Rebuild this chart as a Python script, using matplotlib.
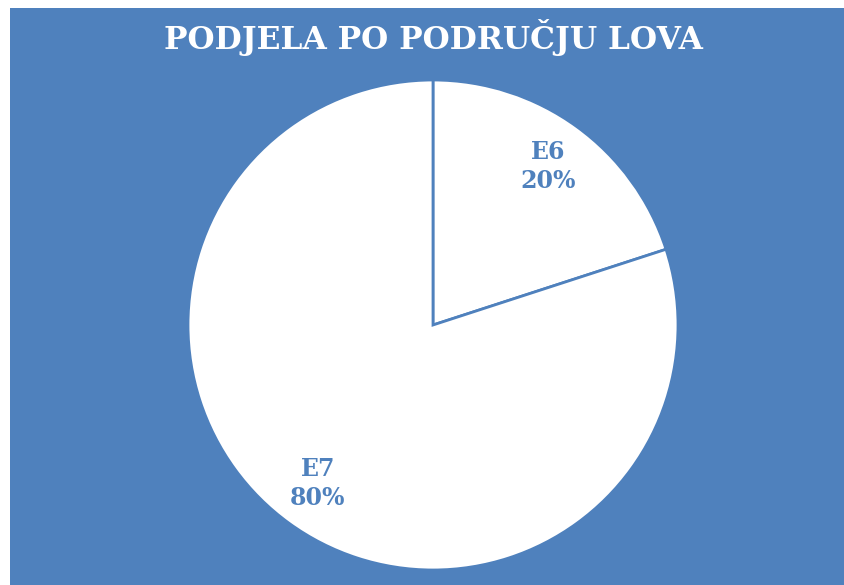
import matplotlib.pyplot as plt
from matplotlib.patches import Rectangle

# data
categories = ["E6", "E7"]
shares = [20, 80]
title = "PODJELA PO PODRUČJU LOVA"

blue = "#4F81BD"

fig = plt.figure(figsize=(8.44, 5.85), dpi=100, facecolor="white")
# blue chart area
fig.patches.append(Rectangle((10 / 844, 0), 1 - 10 / 844, 1 - 8 / 585,
                             transform=fig.transFigure, facecolor=blue,
                             edgecolor="none", zorder=-1))

ax = fig.add_axes([188 / 844, 15 / 585, 490 / 844, 490 / 585])
ax.set_facecolor("none")
ax.set_zorder(2)

names = iter(categories)


def lab(pct):
    return f"{next(names)}\n{pct:.0f}%"


ax.pie(shares, startangle=90, counterclock=False,
       colors=["white", "white"],
       wedgeprops=dict(edgecolor=blue, linewidth=2),
       autopct=lab, pctdistance=0.8)
for t in ax.texts:
    t.set_color(blue)
    t.set_fontsize(17)
    t.set_fontweight("bold")
    t.set_family("DejaVu Serif")
    t.set_linespacing(1.25)
ax.set_xlim(-1, 1)
ax.set_ylim(-1, 1)
ax.set_aspect("equal")

fig.text(433 / 844, 1 - 38 / 585, title, ha="center", va="center",
         color="white", fontsize=22.5, fontweight="bold", family="DejaVu Serif",
         zorder=3)

fig.savefig("out.png", dpi=100, facecolor="white")
